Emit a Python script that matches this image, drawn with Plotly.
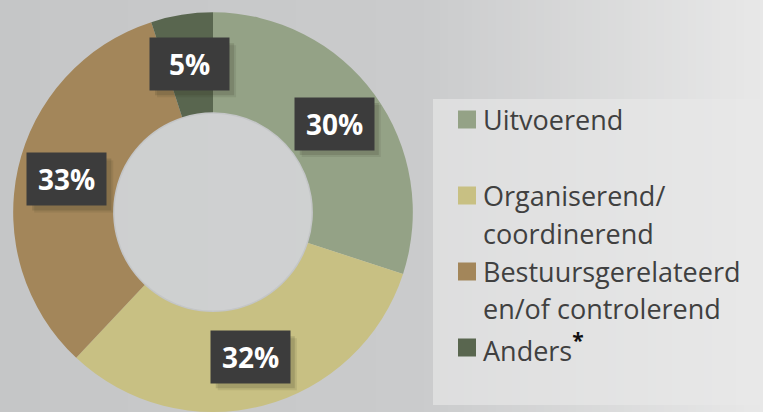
import math
import plotly.graph_objects as go

# ---- data ----
categories = ["Uitvoerend", "Organiserend/coordinerend",
              "Bestuursgerelateerd en/of controlerend", "Anders"]
values = [30, 32, 33, 5]
legend_lines = [["Uitvoerend"],
                ["Organiserend/", "coordinerend"],
                ["Bestuursgerelateerd", "en/of controlerend"],
                ["Anders<b><span style='color:#111111;font-size:30px'><sup>*</sup></span></b>"]]
colors = ["#94a286", "#c8c083", "#a3865a", "#59664f"]

W, H = 763, 412
FONT = "Open Sans"
HOLE = 0.5

# pie domain (paper coords)
dom_x = [12 / W, 414 / W]
dom_y = [0.0, 0.97]

fig = go.Figure()
fig.add_trace(go.Pie(
    labels=categories, values=values, hole=HOLE, sort=False,
    direction="clockwise", rotation=0,
    marker=dict(colors=colors, line=dict(width=0)),
    textinfo="none", hoverinfo="label+percent",
    domain=dict(x=dom_x, y=dom_y), showlegend=False,
))

shapes = []
# background gradient (strips)
def lerp(a, b, t):
    return tuple(round(a[i] + (b[i] - a[i]) * t) for i in range(3))
c0, c1, c2 = (197, 198, 199), (202, 203, 204), (232, 232, 232)
step = 8
for x0 in range(0, W, step):
    xm = x0 + step / 2
    if xm < 420:
        c = lerp(c0, c1, xm / 420)
    else:
        c = lerp(c1, c2, (xm - 420) / (W - 420))
    shapes.append(dict(type="rect", xref="paper", yref="paper",
                       x0=x0 / W, x1=min(x0 + step + 1, W) / W, y0=0, y1=1,
                       fillcolor="rgb(%d,%d,%d)" % c, line=dict(width=0),
                       layer="below"))
# legend panel
shapes.append(dict(type="rect", xref="paper", yref="paper",
                   x0=433 / W, x1=1, y0=1 - 405 / H, y1=1 - 99 / H,
                   fillcolor="rgba(232,232,232,0.62)", line=dict(width=0),
                   layer="below"))

annotations = []
cx_px = (dom_x[0] + dom_x[1]) / 2 * W
cy_px = (1 - (dom_y[0] + dom_y[1]) / 2) * H
r_px = min((dom_x[1] - dom_x[0]) * W, (dom_y[1] - dom_y[0]) * H) / 2

# slightly lighter hole
rh = r_px * HOLE
shapes.append(dict(type="circle", xref="paper", yref="paper",
                   x0=(cx_px - rh) / W, x1=(cx_px + rh) / W,
                   y0=1 - (cy_px + rh) / H, y1=1 - (cy_px - rh) / H,
                   fillcolor="rgba(214,215,216,0.5)",
                   line=dict(width=3, color="rgba(185,187,189,0.5)"),
                   layer="below"))

# percentage labels computed from data
total = sum(values)
BW, BH = 79, 52
cum = 0
for v in values:
    mid = (cum + v / 2) / total * 2 * math.pi
    cum += v
    rl = 0.75 * r_px
    xp = cx_px + rl * math.sin(mid)
    yp = cy_px - rl * math.cos(mid)
    for k, a in ((7, 0.10), (5, 0.16)):
        shapes.append(dict(type="rect", xref="paper", yref="paper",
                           x0=(xp - BW / 2 + k) / W, x1=(xp + BW / 2 + k) / W,
                           y0=1 - (yp + BH / 2 + k) / H, y1=1 - (yp - BH / 2 + k) / H,
                           fillcolor="rgba(50,50,30,%.2f)" % a, line=dict(width=0),
                           layer="above"))
    annotations.append(dict(x=xp / W, y=1 - yp / H, xref="paper", yref="paper",
                            xanchor="center", yanchor="middle",
                            text="<b>%d%%</b>" % v, showarrow=False,
                            width=BW, height=BH, bgcolor="#3c3c3c", borderpad=0,
                            font=dict(family=FONT, size=28, color="white")))

# legend (manual)
line_y = [[119], [195, 233], [271, 308], [347]]
for i, lines in enumerate(legend_lines):
    sy = line_y[i][0]
    shapes.append(dict(type="rect", xref="paper", yref="paper",
                       x0=458 / W, x1=476 / W, y0=1 - (sy + 9.5) / H,
                       y1=1 - (sy - 8.5) / H, fillcolor=colors[i],
                       line=dict(width=0)))
    for txt, yy in zip(lines, line_y[i]):
        annotations.append(dict(x=481 / W, y=1 - yy / H, xref="paper",
                                yref="paper", xanchor="left", yanchor="middle",
                                text=txt, showarrow=False,
                                font=dict(family=FONT, size=27, color="#404040")))

fig.update_layout(
    width=W, height=H, margin=dict(l=0, r=0, t=0, b=0),
    paper_bgcolor="#c9cacb", plot_bgcolor="#c9cacb",
    shapes=shapes, annotations=annotations, showlegend=False,
)
fig.write_html("out.html", config={"displayModeBar": False},
               post_script="document.body.style.margin='0';document.body.style.padding='0';")
